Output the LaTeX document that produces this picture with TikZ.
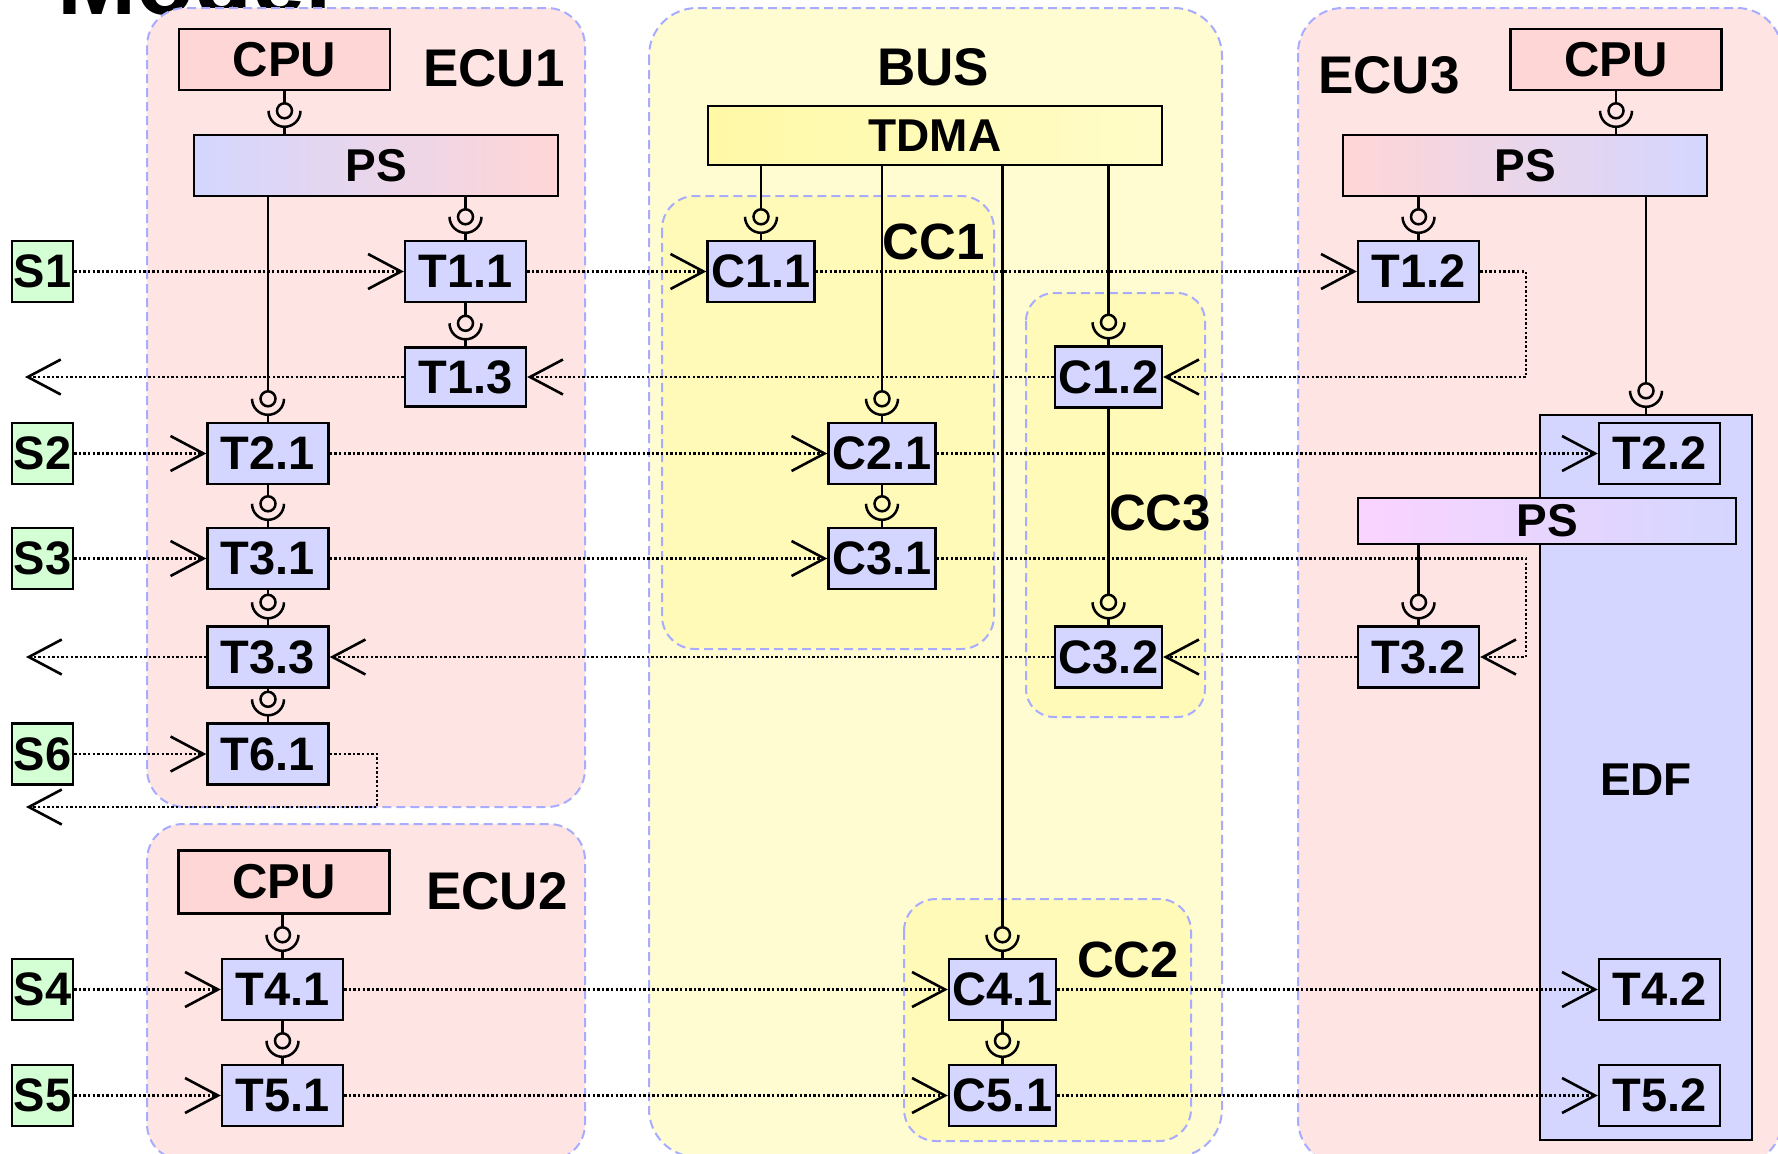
\documentclass[tikz,border=0pt]{standalone}
\usepackage{fontspec}
\setmainfont{Liberation Sans}
\usetikzlibrary{arrows.meta,calc}
\definecolor{taskc}{HTML}{D4D6FF}
\definecolor{cpuc}{HTML}{FFD6D6}
\definecolor{sigc}{HTML}{D4FFD4}
\definecolor{ecuc}{HTML}{FFE4E4}
\definecolor{busc}{HTML}{FFFCD2}
\definecolor{ccc}{HTML}{FFFAB8}
\definecolor{dashc}{HTML}{A8ACFF}
\definecolor{tdmaa}{HTML}{FFF9A6}
\definecolor{tdmab}{HTML}{FFFCC8}
\definecolor{psv}{HTML}{FAD4FF}
\tikzset{
  box/.style={draw=black, line width=2.4pt, inner sep=0pt, font=\bfseries\fontsize{47}{50}\selectfont},
  task/.style={box, fill=taskc, minimum width=121pt, minimum height=61pt},
  comm/.style={box, fill=taskc, minimum width=107pt, minimum height=61pt},
  sig/.style={box, fill=sigc, minimum width=61pt, minimum height=61pt},
  cpu/.style={box, fill=cpuc, minimum width=211pt, minimum height=61pt, font=\bfseries\fontsize{49}{52}\selectfont},
  psbox/.style={box, minimum height=61pt, font=\bfseries\fontsize{46}{50}\selectfont},
  cont/.style={draw=dashc, line width=2pt, dash pattern=on 9pt off 5pt},
  lbl/.style={font=\bfseries\fontsize{53}{56}\selectfont, inner sep=0pt, anchor=base},
  wire/.style={line width=2.5pt},
  flow/.style={line width=2.6pt, dash pattern=on 2.4pt off 2.2pt, -{Straight Barb[length=33pt,width=35pt]}},
}
% ball-and-socket connector: #1 x reference node, #2 source node, #3 target node
\newcommand\plug[3]{%
  \draw[wire] (#1.center |- #2.south) -- ($(#1.center |- #3.north)+(0,30.5)$)
    ($(#1.center |- #3.north)+(0,7.5)$) -- (#1.center |- #3.north);
  \draw[wire] ($(#1.center |- #3.north)+(0,23)$) circle[radius=7.5];
  \draw[wire] ($(#1.center |- #3.north)+(-16,23)$) arc[start angle=180,end angle=360,radius=16];
}
\begin{document}
\begin{tikzpicture}[x=1pt,y=1pt]
\useasboundingbox (0,0) rectangle (1778,-1154);
\clip (0,0) rectangle (1778,-1154);
% title (cut off at the top)
\node[font=\bfseries\fontsize{95}{98}\selectfont, anchor=base west, inner sep=0pt] (title) at (57,-14) {Model};
% containers
\draw[cont, fill=ecuc, rounded corners=38pt] (147,-8) rectangle (585,-807);
\draw[cont, fill=ecuc, rounded corners=36pt] (147,-824) rectangle (585,-1160);
\draw[cont, fill=busc, rounded corners=48pt] (649,-8) rectangle (1222,-1157);
\draw[cont, fill=ecuc, rounded corners=45pt] (1298,-8) rectangle (1782,-1165);
\draw[cont, fill=ccc, rounded corners=33pt] (662,-196) rectangle (994,-649);
\draw[cont, fill=ccc, rounded corners=28pt] (1026,-293) rectangle (1205,-717);
\draw[cont, fill=ccc, rounded corners=32pt] (904,-899) rectangle (1191,-1141);
% container labels
\node[lbl] (ecu1l) at (494,-86) {ECU1};
\node[lbl] (ecu2l) at (497,-909) {ECU2};
\node[lbl] (ecu3l) at (1389,-93) {ECU3};
\node[lbl] (busl) at (933,-85) {BUS};
\node[lbl, font=\bfseries\fontsize{51}{54}\selectfont] (cc1l) at (934,-259) {CC1};
\node[lbl, font=\bfseries\fontsize{51}{54}\selectfont] (cc3l) at (1160,-530) {CC3};
\node[lbl, font=\bfseries\fontsize{51}{54}\selectfont] (cc2l) at (1128,-977) {CC2};
% EDF scheduler
\node[box, fill=taskc, minimum width=212pt, minimum height=725pt] (edf) at (1646,-777.5) {};
\node[lbl, font=\bfseries\fontsize{46}{50}\selectfont] (edfl) at (1646,-795) {EDF};
% processors and schedulers
\node[cpu] (cpu1) at (284.5,-59.5) {CPU};
\node[cpu, minimum height=63pt] (cpu2) at (284,-882) {CPU};
\node[cpu] (cpu3) at (1616,-59.5) {CPU};
\node[psbox, minimum width=364pt, left color=taskc, right color=cpuc] (ps1) at (376,-165.5) {PS};
\node[psbox, minimum width=364pt, left color=cpuc, right color=taskc] (ps3) at (1525,-165.5) {PS};
\node[psbox, minimum width=454pt, minimum height=59pt, left color=tdmaa, right color=tdmab] (tdma) at (935,-135.5) {TDMA};
\node[psbox, minimum width=378pt, minimum height=46pt, left color=psv, right color=taskc] (psi) at (1547,-521) {PS};
% sources
\node[sig] (s1) at (42.5,-271.5) {S1};
\node[sig] (s2) at (42.5,-453.5) {S2};
\node[sig] (s3) at (42.5,-558.5) {S3};
\node[sig] (s6) at (42.5,-754) {S6};
\node[sig] (s4) at (42.5,-989.5) {S4};
\node[sig] (s5) at (42.5,-1095.5) {S5};
% tasks ECU1 / ECU2
\node[task] (t11) at (465.5,-271.5) {T1.1};
\node[task, minimum height=59pt] (t13) at (465.5,-377) {T1.3};
\node[task] (t21) at (268,-453.5) {T2.1};
\node[task] (t31) at (268,-558.5) {T3.1};
\node[task] (t33) at (268,-657) {T3.3};
\node[task] (t61) at (268,-754) {T6.1};
\node[task] (t41) at (282.5,-989.5) {T4.1};
\node[task] (t51) at (282.5,-1095.5) {T5.1};
% messages on the bus
\node[comm] (c11) at (761,-271.5) {C1.1};
\node[comm] (c12) at (1108.5,-377) {C1.2};
\node[comm] (c21) at (882,-453.5) {C2.1};
\node[comm] (c31) at (882,-558.5) {C3.1};
\node[comm] (c32) at (1108.5,-657) {C3.2};
\node[comm] (c41) at (1002.5,-989.5) {C4.1};
\node[comm] (c51) at (1002.5,-1095.5) {C5.1};
% tasks ECU3
\node[task] (t12) at (1418.5,-271.5) {T1.2};
\node[task] (t22) at (1659.5,-453.5) {T2.2};
\node[task] (t32) at (1418.5,-657) {T3.2};
\node[task] (t42) at (1659.5,-989.5) {T4.2};
\node[task] (t52) at (1659.5,-1095.5) {T5.2};
% free ends and bends
\coordinate (o13) at (25,-377);
\coordinate (o33) at (26,-657);
\coordinate (o61) at (26,-807);
\coordinate (lbend) at (377,0);
\coordinate (rbend) at (1526,0);
% ball-and-socket connectors
\plug{cpu1}{cpu1}{ps1}
\plug{t11}{ps1}{t11}
\plug{t13}{t11}{t13}
\plug{t21}{ps1}{t21}
\plug{t31}{t21}{t31}
\plug{t33}{t31}{t33}
\plug{t61}{t33}{t61}
\plug{t41}{cpu2}{t41}
\plug{t51}{t41}{t51}
\plug{c11}{tdma}{c11}
\plug{c21}{tdma}{c21}
\plug{c41}{tdma}{c41}
\plug{c12}{tdma}{c12}
\plug{c31}{c21}{c31}
\plug{c32}{c12}{c32}
\plug{c51}{c41}{c51}
\plug{cpu3}{cpu3}{ps3}
\plug{t12}{ps3}{t12}
\plug{edf}{ps3}{edf}
\plug{t32}{psi}{t32}
% data flows
\draw[flow] (s1.east) -- (t11.west);
\draw[flow] (t11.east) -- (c11.west);
\draw[flow] (c11.east) -- (t12.west);
\draw[flow] (t12.east) -- (t12.east -| rbend) |- (c12.east);
\draw[flow] (c12.west) -- (t13.east);
\draw[flow] (t13.west) -- (o13);
\draw[flow] (s2.east) -- (t21.west);
\draw[flow] (t21.east) -- (c21.west);
\draw[flow] (c21.east) -- (t22.west);
\draw[flow] (s3.east) -- (t31.west);
\draw[flow] (t31.east) -- (c31.west);
\draw[flow] (c31.east) -- (c31.east -| rbend) |- (t32.east);
\draw[flow] (t32.west) -- (c32.east);
\draw[flow] (c32.west) -- (t33.east);
\draw[flow] (t33.west) -- (o33);
\draw[flow] (s6.east) -- (t61.west);
\draw[flow] (t61.east) -- (t61.east -| lbend) |- (o61);
\draw[flow] (s4.east) -- (t41.west);
\draw[flow] (t41.east) -- (c41.west);
\draw[flow] (c41.east) -- (t42.west);
\draw[flow] (s5.east) -- (t51.west);
\draw[flow] (t51.east) -- (c51.west);
\draw[flow] (c51.east) -- (t52.west);
\end{tikzpicture}
\end{document}
